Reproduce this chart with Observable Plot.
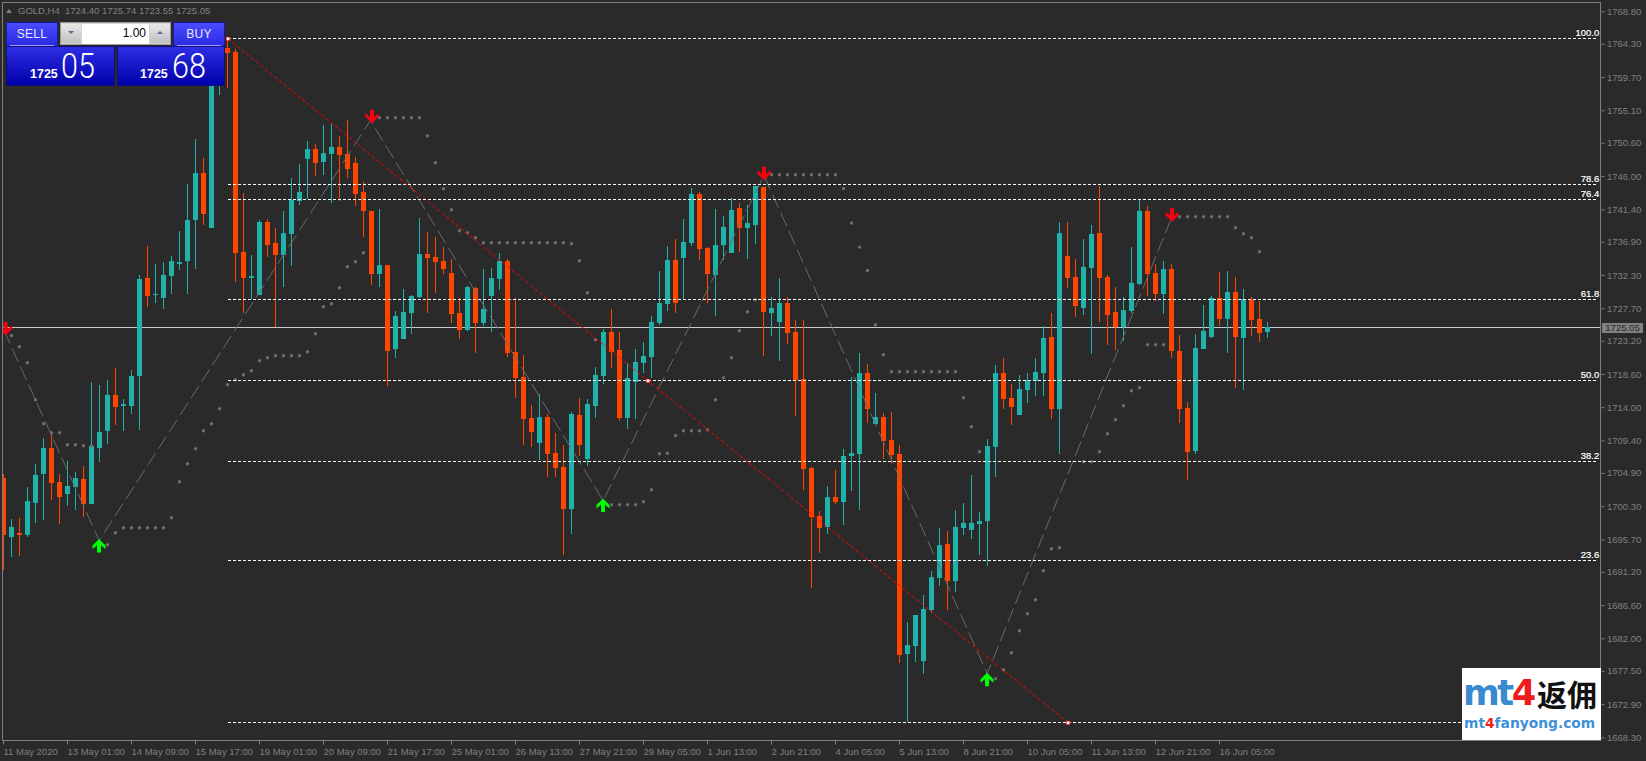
<!DOCTYPE html>
<html><head><meta charset="utf-8">
<script src="https://cdn.jsdelivr.net/npm/d3@7"></script>
<script src="https://cdn.jsdelivr.net/npm/@observablehq/plot@0.6"></script>
<style>
html,body{margin:0;padding:0;background:#2a2a2a;overflow:hidden}
#wrap{position:relative;width:1646px;height:761px;font-family:"Liberation Sans",sans-serif}
#wrap svg{position:absolute;left:0;top:0;background:#2a2a2a}
.abs{position:absolute;box-sizing:border-box;white-space:nowrap}
.top{background:linear-gradient(#4a4aff,#2a2ae0);border:1px solid #1a1aa0;color:#e8e8ff;font-size:12px;text-align:center;line-height:23px;letter-spacing:.3px}
.top i{position:absolute;left:3px;right:3px;bottom:0;height:1px;background:#c8c8f8;display:block;opacity:.75}
.price{background:linear-gradient(#2e2ee6,#0000a8);border:1px solid #10107a;color:#fff}
.price b{position:absolute;font-size:12.5px;line-height:13px}
.price span{position:absolute;font-size:35px;line-height:35px;font-family:Roboto,"Liberation Sans",sans-serif;font-weight:300;transform-origin:0 0;transform:scaleX(.87)}
</style></head><body><div id="wrap"></div>
<script>
const opens=[1704.20,1696.03,1696.58,1696.30,1700.73,1704.75,1708.35,1703.64,1701.98,1702.95,
1704.06,1700.60,1708.35,1710.70,1715.68,1714.16,1714.16,1718.32,1731.89,1729.53,
1729.12,1732.16,1733.82,1734.24,1739.92,1746.42,1738.81,1758.50,1763.73,1763.17,
1735.49,1731.89,1729.53,1739.64,1736.73,1735.07,1737.98,1742.55,1748.36,1749.74,
1747.94,1749.05,1750.02,1749.05,1747.81,1743.79,1741.16,1732.44,1733.69,1722.06,
1723.44,1727.04,1729.25,1735.20,1734.79,1734.23,1732.57,1727.04,1724.68,1730.50,
1725.65,1729.39,1731.74,1734.23,1721.64,1718.18,1712.50,1709.04,1712.64,1707.66,
1705.72,1699.90,1712.92,1706.83,1714.16,1718.32,1724.41,1721.91,1712.50,1717.48,
1720.11,1720.95,1725.65,1728.28,1734.37,1734.65,1736.73,1743.51,1736.03,1732.30,
1736.45,1735.34,1741.57,1738.80,1739.22,1744.48,1727.04,1725.79,1728.42,1724.41,
1717.90,1705.58,1698.94,1697.42,1701.57,1700.88,1707.25,1707.52,1718.73,1711.67,
1712.64,1709.46,1707.52,1679.84,1680.94,1678.87,1685.93,1690.36,1695.06,1689.94,
1697.28,1697.00,1697.83,1698.25,1708.49,1718.73,1715.27,1712.92,1716.38,1717.63,
1718.73,1723.72,1713.75,1734.93,1732.02,1727.73,1733.27,1738.11,1732.02,1727.18,
1725.10,1727.32,1731.05,1741.16,1732.58,1729.67,1733.13,1721.78,1713.89,1707.94,
1722.06,1723.72,1729.12,1726.21,1729.95,1723.58,1728.84,1726.21,1724.40];
const closes=[1696.30,1697.41,1696.30,1701.01,1704.61,1708.35,1703.50,1701.57,1703.09,1704.20,
1700.60,1708.63,1710.56,1715.68,1714.02,1714.44,1718.32,1731.75,1729.40,1729.67,
1732.30,1734.24,1734.10,1739.92,1746.42,1740.75,1758.50,1763.00,1762.99,1735.35,
1731.89,1732.16,1739.64,1736.45,1735.07,1738.12,1742.68,1743.79,1749.74,1747.81,
1749.19,1750.02,1748.91,1746.98,1743.51,1741.16,1732.44,1733.69,1721.78,1726.63,
1727.17,1729.39,1735.20,1734.65,1734.10,1733.13,1726.90,1724.68,1730.64,1725.65,
1727.59,1731.88,1734.23,1721.50,1718.04,1712.36,1710.56,1712.64,1707.52,1705.58,
1699.90,1713.05,1708.76,1714.44,1718.45,1724.41,1721.64,1712.50,1718.04,1720.25,
1721.08,1725.79,1728.42,1734.37,1728.42,1736.86,1743.51,1735.90,1732.43,1736.45,
1738.94,1741.29,1738.80,1739.49,1744.62,1727.17,1727.73,1728.42,1724.27,1717.76,
1705.45,1698.80,1697.28,1701.57,1700.88,1707.25,1707.66,1718.73,1713.75,1712.64,
1709.32,1707.38,1679.70,1681.08,1685.23,1686.07,1690.50,1694.92,1689.94,1697.42,
1697.97,1697.97,1698.25,1708.63,1718.73,1715.14,1714.03,1716.52,1717.77,1718.87,
1723.58,1713.75,1738.11,1731.89,1728.01,1733.41,1737.98,1731.89,1726.76,1725.10,
1727.46,1731.19,1741.16,1732.44,1729.67,1733.13,1721.78,1713.75,1707.80,1722.20,
1724.55,1729.12,1726.21,1729.95,1723.72,1728.98,1726.07,1724.27,1725.05];
const highs=[1704.75,1698.52,1698.66,1702.95,1706.13,1709.73,1710.42,1704.75,1706.55,1705.03,
1705.86,1717.48,1717.07,1717.76,1719.42,1715.13,1719.15,1732.30,1736.32,1733.82,
1734.10,1734.93,1738.39,1744.90,1751.13,1748.50,1760.30,1764.20,1765.06,1763.54,
1743.65,1735.07,1739.92,1740.05,1738.81,1741.16,1745.73,1747.67,1750.85,1750.44,
1753.07,1753.20,1751.54,1753.76,1748.64,1745.18,1741.16,1741.44,1733.69,1727.32,
1730.36,1729.53,1740.19,1738.25,1737.56,1736.17,1734.51,1729.11,1730.77,1730.64,
1733.13,1733.27,1735.34,1734.51,1729.11,1721.22,1714.30,1715.82,1713.05,1710.42,
1708.76,1713.33,1715.27,1715.13,1719.56,1724.82,1727.59,1724.41,1720.11,1722.05,
1723.02,1726.62,1732.85,1736.31,1737.28,1740.05,1744.34,1743.79,1736.17,1741.43,
1740.46,1742.96,1742.26,1741.99,1744.62,1744.48,1729.25,1731.88,1729.25,1726.07,
1726.07,1705.72,1699.63,1703.09,1705.31,1708.21,1718.18,1721.50,1719.98,1715.97,
1713.20,1713.34,1708.77,1684.27,1685.23,1688.00,1691.33,1697.28,1696.86,1699.77,
1700.74,1704.61,1699.49,1709.60,1719.84,1720.81,1717.21,1718.46,1718.73,1720.81,
1725.24,1727.04,1739.64,1739.64,1734.52,1737.28,1739.22,1744.62,1732.30,1730.64,
1729.26,1736.18,1742.82,1741.85,1733.82,1734.24,1733.82,1723.99,1714.72,1724.14,
1728.15,1729.40,1732.72,1732.86,1732.03,1730.37,1729.26,1728.70,1725.74];
const lows=[1691.46,1693.26,1693.40,1696.03,1697.97,1698.38,1701.15,1697.83,1700.32,1699.77,
1698.80,1700.60,1706.41,1708.90,1711.53,1710.70,1713.05,1710.84,1727.87,1728.43,
1727.60,1729.67,1732.99,1729.67,1733.13,1739.22,1738.81,1757.22,1758.19,1731.33,
1727.04,1728.98,1729.53,1734.79,1725.10,1730.64,1733.55,1741.99,1742.82,1746.01,
1746.14,1742.27,1742.55,1745.73,1741.85,1737.56,1730.92,1730.64,1716.94,1720.81,
1723.44,1724.13,1729.11,1727.04,1729.80,1732.43,1725.65,1723.44,1724.54,1721.50,
1725.24,1724.41,1730.22,1720.95,1715.27,1708.76,1708.49,1706.69,1704.33,1704.33,
1693.54,1696.44,1707.24,1705.86,1712.50,1717.21,1719.42,1712.09,1710.98,1712.36,
1718.73,1718.04,1725.37,1727.31,1727.04,1728.97,1736.31,1734.37,1728.42,1726.62,
1734.37,1735.34,1735.48,1734.51,1736.59,1721.08,1723.85,1720.39,1722.74,1712.78,
1702.54,1688.97,1693.82,1696.45,1700.60,1697.69,1702.40,1699.77,1711.81,1711.67,
1706.83,1706.28,1678.59,1670.42,1678.73,1677.07,1685.51,1689.25,1685.93,1688.42,
1696.31,1695.76,1693.54,1692.02,1704.34,1713.75,1711.54,1712.92,1714.58,1715.55,
1715.55,1712.37,1707.52,1730.50,1726.49,1726.76,1721.36,1725.79,1722.61,1721.92,
1723.16,1727.04,1730.92,1729.39,1728.70,1726.90,1720.81,1711.81,1703.93,1707.52,
1722.06,1723.58,1725.24,1721.51,1716.66,1716.38,1723.86,1723.03,1723.55];
const sar=[null,1724.00,1722.43,1720.22,1715.09,1711.77,1710.53,1710.53,1708.87,1708.87,1708.73,1708.73,null,
1695.02,1696.68,1697.38,1697.38,1697.38,1697.38,1697.38,1697.38,1698.76,1703.74,1706.23,1708.31,1710.80,1711.77,1713.85,1717.17,1717.86,1718.56,1719.11,1720.49,1720.91,1721.19,1721.19,1721.19,1721.19,1721.74,1724.23,1727.97,1728.38,1730.60,1733.51,1734.20,1735.44,null,
1754.13,1754.13,1754.13,1754.13,1754.13,1754.13,1751.63,1747.90,1744.30,1741.40,1738.49,1738.21,1737.52,1736.83,1736.83,1736.83,1736.83,1736.83,1736.83,1736.83,1736.83,1736.83,1736.83,1736.83,1736.69,1734.34,1729.91,1723.40,null,
1700.56,1700.56,1700.56,1700.56,1700.97,1702.64,1707.62,1707.70,1710.15,1710.80,1710.80,1710.80,1710.94,1715.09,1718.14,1720.91,1724.65,1727.28,1728.94,null,
1746.24,1746.24,1746.24,1746.24,1746.24,1746.24,1746.24,1746.24,1746.24,1744.35,1739.57,1736.22,1732.99,1725.48,1721.32,1718.97,1718.97,1718.97,1718.97,1718.97,1718.97,1718.97,1718.97,1718.97,1715.37,1711.36,1707.90,null,
1676.47,1677.72,1680.07,1683.12,1685.47,1687.41,1691.42,1694.47,1694.61,null,null,
1706.51,1706.51,1707.90,1710.39,1712.33,1714.26,1716.34,1716.76,1722.71,1722.71,1722.71,null,
1740.43,1740.43,1740.43,1740.43,1740.43,1740.43,1740.43,1738.90,1738.07,1737.52,1735.58,null];
const priceTicks=[1768.80,1764.30,1759.70,1755.10,1750.60,1746.00,1741.40,1736.90,1732.30,1727.70,1723.20,1718.60,1714.00,1709.40,1704.90,1700.30,1695.70,1691.20,1686.60,1682.00,1677.50,1672.90,1668.30];
const timeLabels=["11 May 2020","13 May 01:00","14 May 09:00","15 May 17:00","19 May 01:00","20 May 09:00","21 May 17:00","25 May 01:00","26 May 13:00","27 May 21:00","29 May 05:00","1 Jun 13:00","2 Jun 21:00","4 Jun 05:00","5 Jun 13:00","8 Jun 21:00","10 Jun 05:00","11 Jun 13:00","12 Jun 21:00","16 Jun 05:00"];
const timeBars=[0,8,16,24,32,40,48,56,64,72,80,88,96,104,112,120,128,136,144,152];
const fibNames=["100.0","78.6","76.4","61.8","50.0","38.2","23.6"];
const fibValues=[1765.06,1744.85,1742.78,1728.94,1717.72,1706.54,1692.78];
const fibBottom=1670.37;
const zigzagBars=[0,11.9,45.8,74.9,95,122.9,145.8];
const zigzagValues=[1724.69,1695.62,1753.76,1701.15,1746.14,1677.2,1739.91];
const trendBars=[28,133];
const trendValues=[1765.06,1670.37];
const anchorBars=[28,80.5,133];
const anchorValues=[1765.06,1717.72,1670.37];
const upBars=[11.875,74.875,122.875];
const upValues=[1694.86,1700.46,1676.33];
const downBars=[0.2,46,95,146];
const downValues=[1724.96,1754.35,1746.46,1740.70];
const bidPrice=1725.05;

const bars=opens.map((o,i)=>({i,o,h:highs[i],l:lows[i],c:closes[i],col:closes[i]>=o?"#20b2aa":"#ff4500"}));
const sarPts=sar.map((v,i)=>({i,v})).filter(d=>d.v!==null);
const zig=zigzagBars.map((x,k)=>({x,y:zigzagValues[k]}));
const trend=trendBars.map((x,k)=>({x,y:trendValues[k]}));
const fibs=fibValues.map((v,k)=>({v,n:fibNames[k]}));
const upShape=[[0,-7],[6.5,-.5],[6.5,3],[4,1],[2,-1],[2,6.5],[-2,6.5],[-2,-1],[-4,1],[-6.5,3],[-6.5,-.5]];
const arrowUp={draw(c){c.moveTo(...upShape[0]);upShape.slice(1).forEach(q=>c.lineTo(...q));c.closePath();}};
const arrowDown={draw(c){c.moveTo(upShape[0][0],-upShape[0][1]);upShape.slice(1).forEach(q=>c.lineTo(q[0],-q[1]));c.closePath();}};
const FONT='"Liberation Sans",sans-serif';

const chart=Plot.plot({
  width:1646,height:761,marginLeft:2.5,marginRight:45.5,marginTop:2.5,marginBottom:20.5,
  style:{background:"#2a2a2a",fontFamily:FONT},
  x:{type:"linear",domain:[-0.125,199.625],range:[2.5,1600.5]},
  y:{type:"linear",domain:[1667.86,1770.02],range:[740.5,2.5]},
  marks:[
    Plot.ruleY([bidPrice],{x1:-0.125,x2:199.625,dy:-0.5,stroke:"#c8c8c8",strokeWidth:1,shapeRendering:"crispEdges",clip:"frame"}),
    Plot.ruleX(bars,{x:"i",y1:"l",y2:"h",dx:-0.5,stroke:"col",strokeWidth:1,shapeRendering:"crispEdges",clip:"frame"}),
    Plot.rect(bars,{x1:d=>d.i-0.3125,x2:d=>d.i+0.3125,y1:"o",y2:"c",fill:"col",shapeRendering:"crispEdges",clip:"frame"}),
    Plot.dot(sarPts,{x:"i",y:"v",dx:-0.5,r:1.7,fill:"#6e6e6e",clip:"frame"}),
    Plot.line(zig,{x:"x",y:"y",stroke:"#6a6a6a",strokeWidth:1,strokeDasharray:"14,6",clip:"frame"}),
    Plot.line(trend,{x:"x",y:"y",stroke:"#ff0000",strokeWidth:1,strokeDasharray:"3,3",clip:"frame"}),
    Plot.ruleY(fibValues.concat([fibBottom]),{x1:28,x2:199.3,dy:-0.5,stroke:"#ffffff",strokeWidth:1,strokeDasharray:"3,2",shapeRendering:"crispEdges"}),
    Plot.text(fibs,{x:199.4,y:"v",text:"n",textAnchor:"end",dy:-6,fill:"#ffffff",stroke:"#ffffff",strokeWidth:.2,fontSize:9.5,fontFamily:FONT}),
    Plot.dot(anchorBars.map((x,k)=>({x,y:anchorValues[k]})),{x:"x",y:"y",symbol:"square",r:2,fill:"#ffffff",stroke:"#ff0000",strokeWidth:.7}),
    Plot.dot(upBars.map((x,k)=>({x,y:upValues[k]})),{x:"x",y:"y",symbol:arrowUp,r:6,fill:"#00ff00",clip:"frame"}),
    Plot.dot(downBars.map((x,k)=>({x,y:downValues[k]})),{x:"x",y:"y",symbol:arrowDown,r:6,fill:"#f80010",clip:"frame"}),
    Plot.frame({dx:-0.5,dy:-0.5,stroke:"#808080",strokeWidth:1,shapeRendering:"crispEdges"}),
    Plot.axisY(priceTicks,{anchor:"right",tickSize:3,tickPadding:3,label:null,color:"#808080",stroke:"#808080",fontSize:9.5,fontFamily:FONT,tickFormat:d=>d.toFixed(2)}),
    Plot.axisX(timeBars,{anchor:"bottom",tickSize:4,tickPadding:3,label:null,dx:-0.5,color:"#808080",stroke:"#808080",fontSize:9.5,fontFamily:FONT,textAnchor:"start",tickFormat:d=>timeLabels[timeBars.indexOf(d)]})
  ]
});
const wrap=document.getElementById("wrap");
wrap.appendChild(chart);
const overlay=`
<div class="abs" style="left:6px;top:8.5px;width:0;height:0;border-left:3.5px solid transparent;border-right:3.5px solid transparent;border-bottom:4px solid #808080"></div>
<div class="abs" style="left:18px;top:5px;color:#808080;font-size:9.5px;line-height:12px">GOLD,H4</div>
<div class="abs" style="left:65px;top:5px;color:#808080;font-size:9.5px;line-height:12px">1724.40 1725.74 1723.55 1725.05</div>
<div class="abs top" style="left:6px;top:22px;width:52px;height:25px">SELL<i></i></div>
<div class="abs top" style="left:173px;top:22px;width:52px;height:25px">BUY<i></i></div>
<div class="abs" style="left:60px;top:22px;width:111px;height:23px;background:#d4d4d4;border:1px solid #9a9a9a"></div>
<div class="abs" style="left:82px;top:24px;width:67px;height:20px;background:#fff;color:#000;font-size:12px;line-height:19px;text-align:right;padding-right:3px">1.00</div>
<div class="abs" style="left:61px;top:24px;width:20px;height:19px;background:linear-gradient(#e8e8e8,#c0c0c0)"></div>
<div class="abs" style="left:150px;top:24px;width:20px;height:19px;background:linear-gradient(#e8e8e8,#c0c0c0)"></div>
<div class="abs" style="left:68px;top:31px;width:0;height:0;border-left:3px solid transparent;border-right:3px solid transparent;border-top:3px solid #5a6a9a"></div>
<div class="abs" style="left:157px;top:31px;width:0;height:0;border-left:3px solid transparent;border-right:3px solid transparent;border-bottom:3px solid #5a6a9a"></div>
<div class="abs price" style="left:6px;top:46px;width:109px;height:40px"><b style="left:23px;top:21px">1725</b><span style="left:54px;top:2px">05</span></div>
<div class="abs price" style="left:117px;top:46px;width:108px;height:40px"><b style="left:22px;top:21px">1725</b><span style="left:54px;top:2px">68</span></div>
<div class="abs" style="left:1602px;top:323px;width:41px;height:10px;background:#808080;color:#2a2a2a;font-size:9.5px;line-height:10px;text-align:center">1725.05</div>
<div class="abs" style="left:1462px;top:668px;width:138.5px;height:72px;background:#fff;overflow:hidden">
  <div class="abs" style="left:1px;top:7px;font:bold 36px/36px 'DejaVu Sans',sans-serif;color:#3a8ad0;letter-spacing:-2.5px;transform-origin:0 0;transform:scaleX(.98)">mt<span style="color:#ee1c1c">4</span></div>
  <div class="abs" style="left:75px;top:9px;font:bold 30px/32px 'Noto Sans CJK SC',sans-serif;color:#111">返佣</div>
  <div class="abs" style="left:2px;top:47px;font:bold 13.8px/16px 'DejaVu Sans',sans-serif;color:#3f90d8">mt<span style="color:#ee1c1c">4</span>fanyong.com</div>
</div>`;
wrap.insertAdjacentHTML("beforeend",overlay);
</script></body></html>
